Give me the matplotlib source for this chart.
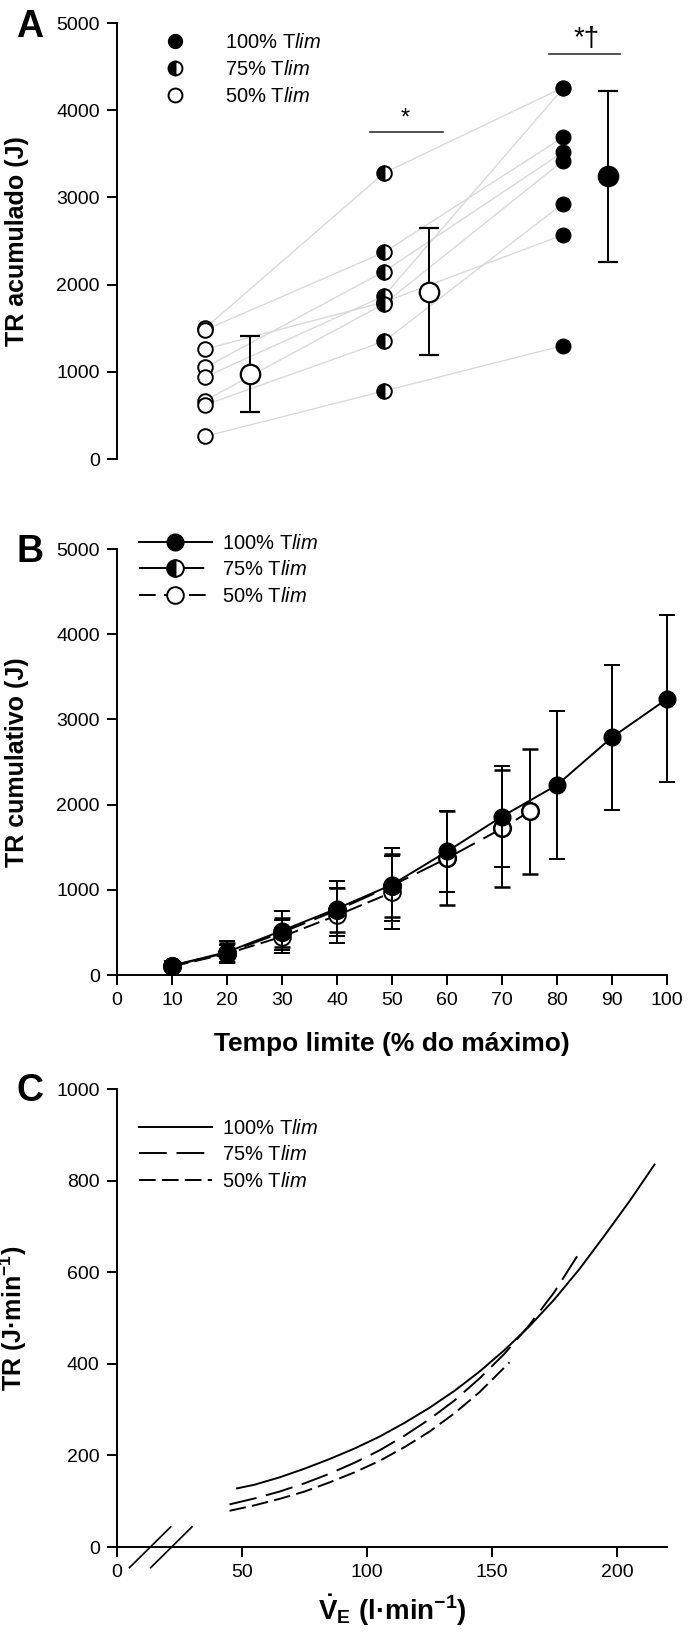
import matplotlib
matplotlib.use("Agg")
from matplotlib import pyplot as plt
from matplotlib.lines import Line2D

plt.rcParams["font.family"] = ["Liberation Sans", "DejaVu Sans"]
plt.rcParams["mathtext.fontset"] = "custom"
plt.rcParams["mathtext.rm"] = "Liberation Sans"
plt.rcParams["mathtext.it"] = "Liberation Sans:italic"
plt.rcParams["mathtext.bf"] = "Liberation Sans:bold"
plt.rcParams["lines.scale_dashes"] = False

W, H = 691, 1634

LABELS = ["100% T$\\mathit{lim}$", "75% T$\\mathit{lim}$", "50% T$\\mathit{lim}$"]

# panel A: accumulated TR per subject (50%, 75%, 100% Tlim)
a_subj_50 = [1500, 1480, 1260, 1050, 940, 670, 620, 260]
a_subj_75 = [3280, 2370, 1800, 2150, 1870, 1780, 1350, 780]
a_subj_100 = [4260, 3690, 2570, 3520, 4250, 3420, 2930, 1300]
a_mean = [970, 1920, 3240]
a_sd = [435, 730, 980]

# panel B: cumulative TR vs time limit (% of max)
b_x_100 = [10, 20, 30, 40, 50, 60, 70, 80, 90, 100]
b_y_100 = [110, 270, 520, 780, 1060, 1450, 1860, 2230, 2790, 3240]
b_sd_100 = [50, 130, 230, 320, 430, 480, 590, 870, 850, 980]
b_x_75 = [10, 20, 30, 40, 50, 60, 70, 75]
b_y_75 = [110, 260, 500, 760, 1050, 1370, 1720, 1920]
b_sd_75 = [45, 110, 170, 260, 370, 550, 690, 730]
b_x_50 = [10, 20, 30, 40, 50]
b_y_50 = [100, 250, 450, 700, 970]
b_sd_50 = [40, 100, 190, 320, 430]

# panel C: TR vs VE fitted curves
c_x_100 = [48, 55, 65, 75, 85, 95, 105, 115, 125, 135, 145, 155, 165, 175, 185,
           195, 205, 215]
c_y_100 = [128, 136, 152, 171, 192, 215, 241, 271, 304, 341, 383, 430, 482, 541,
           607, 680, 755, 835]
c_x_75 = [45, 55, 65, 75, 85, 95, 105, 115, 125, 135, 145, 155, 165, 175, 185]
c_y_75 = [93, 106, 121, 139, 160, 184, 211, 243, 279, 320, 368, 422, 485, 557, 643]
c_x_50 = [45, 55, 65, 75, 85, 95, 105, 115, 125, 135, 145, 157]
c_y_50 = [79, 91, 105, 121, 141, 163, 188, 218, 252, 292, 338, 403]

DASH_75 = (0, (20, 7))
DASH_50 = (0, (12, 4.5))
LW = 1.4
TICK_FS = 14
LEG_FS = 14.5
LABEL_FS = 18


def main():
    fig = plt.figure(figsize=(W / 100, H / 100), dpi=100)
    _plot_panel_a(fig.add_axes(_rect(117, 23, 640, 459)))
    _plot_panel_b(fig.add_axes(_rect(117, 549, 667, 975)))
    _plot_panel_c(fig.add_axes(_rect(117, 1089, 667, 1547)))
    for letter, y in (("A", 27), ("B", 552), ("C", 1091)):
        fig.text(30 / W, 1 - y / H, letter, fontsize=27, fontweight="bold",
                 ha="center", va="center")
    fig.savefig("out.png", dpi=100)


def _rect(left, top, right, bottom):
    return [left / W, 1 - bottom / H, (right - left) / W, (bottom - top) / H]


def _style_axes(ax, bottom=True):
    for side in ("top", "right"):
        ax.spines[side].set_visible(False)
    for side in ("left", "bottom"):
        ax.spines[side].set_linewidth(LW)
    if not bottom:
        ax.spines["bottom"].set_visible(False)
        ax.tick_params(axis="x", bottom=False, labelbottom=False)
    ax.tick_params(direction="out", length=7.5, width=LW, labelsize=TICK_FS, pad=5)


def _legend(ax, handles, anchor):
    ax.legend(handles, LABELS, loc="upper left", bbox_to_anchor=anchor,
              frameon=False, fontsize=LEG_FS, handlelength=3.6, handletextpad=0.5,
              labelspacing=0.38, borderpad=0, borderaxespad=0)


def _plot_panel_a(ax):
    groups = [a_subj_50, a_subj_75, a_subj_100]
    for i in range(len(a_subj_50)):
        ax.plot([1, 2, 3], [g[i] for g in groups], color="#d9d9d9", lw=1.0, zorder=1)
    ax.plot([1] * len(a_subj_50), a_subj_50, "o", ms=10.5, mfc="white", mec="black",
            mew=1.4, zorder=3)
    ax.plot([2] * len(a_subj_75), a_subj_75, "o", ms=10.5, fillstyle="left",
            mfc="black", mfcalt="white", mec="black", mew=1.4, zorder=3)
    ax.plot([3] * len(a_subj_100), a_subj_100, "o", ms=10.5, color="black", zorder=3)

    mean_x = [1.25, 2.25, 3.25]
    faces = ["white", "white", "black"]
    for x, m, s, fc in zip(mean_x, a_mean, a_sd, faces):
        ax.errorbar(x, m, yerr=s, fmt="o", ms=14, mfc=fc, mec="black", mew=1.6,
                    ecolor="black", elinewidth=LW, capsize=7.5, capthick=LW, zorder=4)

    ax.plot([1.92, 2.33], [3750, 3750], color="#333333", lw=1.2)
    ax.text(2.12, 3780, "*", fontsize=17, ha="center", va="bottom")
    ax.plot([2.92, 3.32], [4640, 4640], color="#333333", lw=1.2)
    ax.text(3.13, 4670, "*†", fontsize=20, ha="center", va="bottom")

    ax.set_xlim(0.508, 3.43)
    ax.set_ylim(0, 5000)
    ax.set_yticks(range(0, 5001, 1000))
    _style_axes(ax, bottom=False)
    ax.set_ylabel("TR acumulado (J)", fontsize=LABEL_FS, fontweight="bold")
    ax.yaxis.set_label_coords(-88 / 523, 0.5)

    handles = [
        Line2D([], [], ls="none", marker="o", ms=10, color="black"),
        Line2D([], [], ls="none", marker="o", ms=10, fillstyle="left", mfc="black",
               mfcalt="white", mec="black", mew=1.4),
        Line2D([], [], ls="none", marker="o", ms=10, mfc="white", mec="black", mew=1.4),
    ]
    ax.legend(handles, LABELS, loc="upper left", bbox_to_anchor=(38 / 523, 0.976),
              frameon=False, fontsize=LEG_FS, handlelength=2.0, handletextpad=1.5,
              labelspacing=0.38, borderpad=0, borderaxespad=0)


def _plot_panel_b(ax):
    err = dict(ecolor="black", elinewidth=LW, capsize=5.5, capthick=LW, clip_on=False)
    ax.errorbar(b_x_50, b_y_50, yerr=b_sd_50, color="black", lw=LW, ls=DASH_50,
                marker="o", ms=12, mfc="white", mec="black", mew=1.4, zorder=3, **err)
    ax.errorbar(b_x_75, b_y_75, yerr=b_sd_75, color="black", lw=LW, ls=DASH_75,
                marker="o", ms=12, mfc="white", mec="black", mew=1.8, zorder=4, **err)
    ax.errorbar(b_x_100, b_y_100, yerr=b_sd_100, color="black", lw=LW, ls="-",
                marker="o", ms=12, mfc="black", mec="black", zorder=5, **err)

    ax.set_xlim(0, 100)
    ax.set_ylim(0, 5000)
    ax.set_xticks(range(0, 101, 10))
    ax.set_yticks(range(0, 5001, 1000))
    _style_axes(ax)
    ax.set_ylabel("TR cumulativo (J)", fontsize=LABEL_FS, fontweight="bold")
    ax.yaxis.set_label_coords(-88 / 550, 0.5)
    ax.set_xlabel("Tempo limite (% do máximo)", fontsize=19, fontweight="bold",
                  labelpad=16)

    handles = [
        Line2D([], [], color="black", lw=LW, marker="o", ms=12),
        Line2D([], [], color="black", lw=LW, ls=DASH_75, marker="o", ms=12,
               fillstyle="left", mfc="black", mfcalt="white", mec="black", mew=1.4),
        Line2D([], [], color="black", lw=LW, ls=(0, (12, 6)), marker="o", ms=12,
               mfc="white", mec="black", mew=1.4),
    ]
    _legend(ax, handles, (22 / 550, 1.036))


def _plot_panel_c(ax):
    ax.plot(c_x_100, c_y_100, color="black", lw=LW, ls="-")
    ax.plot(c_x_75, c_y_75, color="black", lw=LW, ls=DASH_75)
    ax.plot(c_x_50, c_y_50, color="black", lw=LW, ls=DASH_50)

    # axis break marks
    for x0 in (5, 13.5):
        ax.plot([x0, x0 + 16.5], [-45, 44], color="black", lw=1.2, clip_on=False)

    ax.set_xlim(0, 220)
    ax.set_ylim(0, 1000)
    ax.set_xticks(range(0, 201, 50))
    ax.set_yticks(range(0, 1001, 200))
    _style_axes(ax)
    ax.set_ylabel("TR (J·min$^{\\mathbf{-1}}$)", fontsize=LABEL_FS, fontweight="bold")
    ax.yaxis.set_label_coords(-88 / 550, 0.5)
    ax.set_xlabel("$\\mathbf{\\dot{V}_E}$ (l·min$^{\\mathbf{-1}}$)", fontsize=20,
                  fontweight="bold", labelpad=8)

    handles = [
        Line2D([], [], color="black", lw=LW, ls="-"),
        Line2D([], [], color="black", lw=LW, ls=DASH_75),
        Line2D([], [], color="black", lw=LW, ls=DASH_50),
    ]
    _legend(ax, handles, (22 / 550, 0.935))


if __name__ == "__main__":
    main()
